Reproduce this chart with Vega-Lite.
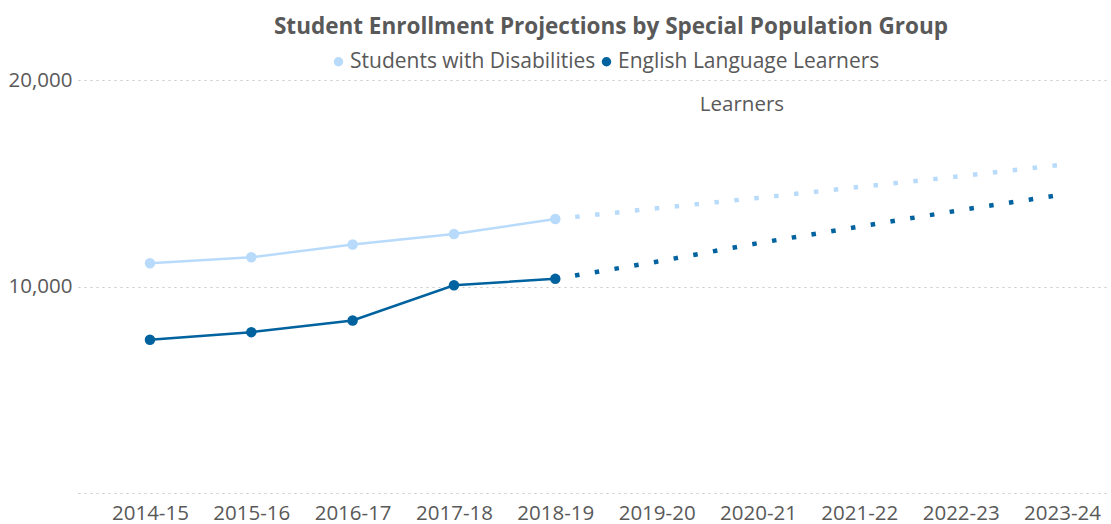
{
  "$schema": "https://vega.github.io/schema/vega-lite/v6.json",
  "width": 1030,
  "height": 413,
  "autosize": {"type": "none"},
  "padding": {"left": 78, "top": 80, "right": 3, "bottom": 31},
  "background": "white",
  "config": {
    "font": "Open Sans",
    "view": {"stroke": null},
    "axis": {"labelFont": "Open Sans", "labelColor": "#595959", "labelFontSize": 20.5}
  },
  "title": {
    "text": "Student Enrollment Projections by Special Population Group",
    "font": "Open Sans",
    "fontSize": 22.5,
    "fontWeight": "bold",
    "color": "#595959",
    "anchor": "middle",
    "dx": 18,
    "offset": 13
  },
  "data": {
    "values": [
      {"year": "2014-15", "group": "Students with Disabilities", "value": 11125, "kind": "actual"},
      {"year": "2015-16", "group": "Students with Disabilities", "value": 11415, "kind": "actual"},
      {"year": "2016-17", "group": "Students with Disabilities", "value": 12030, "kind": "actual"},
      {"year": "2017-18", "group": "Students with Disabilities", "value": 12545, "kind": "actual"},
      {"year": "2018-19", "group": "Students with Disabilities", "value": 13270, "kind": "actual"},
      {"year": "2018-19", "group": "Students with Disabilities", "value": 13270, "kind": "projected"},
      {"year": "2019-20", "group": "Students with Disabilities", "value": 13790, "kind": "projected"},
      {"year": "2020-21", "group": "Students with Disabilities", "value": 14290, "kind": "projected"},
      {"year": "2021-22", "group": "Students with Disabilities", "value": 14820, "kind": "projected"},
      {"year": "2022-23", "group": "Students with Disabilities", "value": 15340, "kind": "projected"},
      {"year": "2023-24", "group": "Students with Disabilities", "value": 15900, "kind": "projected"},
      {"year": "2014-15", "group": "English Language Learners", "value": 7425, "kind": "actual"},
      {"year": "2015-16", "group": "English Language Learners", "value": 7790, "kind": "actual"},
      {"year": "2016-17", "group": "English Language Learners", "value": 8355, "kind": "actual"},
      {"year": "2017-18", "group": "English Language Learners", "value": 10060, "kind": "actual"},
      {"year": "2018-19", "group": "English Language Learners", "value": 10370, "kind": "actual"},
      {"year": "2018-19", "group": "English Language Learners", "value": 10370, "kind": "projected"},
      {"year": "2019-20", "group": "English Language Learners", "value": 11200, "kind": "projected"},
      {"year": "2020-21", "group": "English Language Learners", "value": 12100, "kind": "projected"},
      {"year": "2021-22", "group": "English Language Learners", "value": 12900, "kind": "projected"},
      {"year": "2022-23", "group": "English Language Learners", "value": 13700, "kind": "projected"},
      {"year": "2023-24", "group": "English Language Learners", "value": 14450, "kind": "projected"}
    ]
  },
  "encoding": {
    "x": {
      "field": "year",
      "type": "ordinal",
      "scale": {"type": "point", "padding": 0.582, "align": 0.61},
      "axis": {"title": null, "domain": false, "ticks": false, "grid": false, "labelAngle": 0, "labelPadding": 10}
    },
    "y": {
      "field": "value",
      "type": "quantitative",
      "scale": {"domain": [0, 20000], "nice": false},
      "axis": {
        "title": null,
        "domain": false,
        "ticks": false,
        "values": [0, 10000, 20000],
        "labelExpr": "datum.value == 0 ? '' : format(datum.value, ',')",
        "labelPadding": 6,
        "grid": true,
        "gridColor": "#c8c8c8",
        "gridDash": [2, 4],
        "gridWidth": 1.2
      }
    },
    "color": {
      "field": "group",
      "type": "nominal",
      "scale": {
        "domain": ["Students with Disabilities", "English Language Learners"],
        "range": ["#b9dbfb", "#00629e"]
      },
      "legend": {
        "title": null,
        "orient": "none",
        "direction": "horizontal",
        "legendX": 250,
        "legendY": -29,
        "symbolType": "circle",
        "symbolSize": 90,
        "symbolStrokeWidth": 0,
        "labelFontSize": 21,
        "labelColor": "#595959",
        "labelFont": "Open Sans",
        "labelLimit": 500,
        "labelOffset": 1,
        "columnPadding": 0
      }
    }
  },
  "layer": [
    {
      "transform": [{"filter": "datum.kind == 'actual'"}],
      "mark": {"type": "line", "strokeWidth": 2.5}
    },
    {
      "transform": [{"filter": "datum.kind == 'actual'"}],
      "mark": {"type": "point", "filled": true, "size": 110, "opacity": 1}
    },
    {
      "transform": [{"filter": "datum.kind == 'projected'"}],
      "mark": {"type": "line", "strokeWidth": 4.5, "strokeDash": [4.5, 15.5], "strokeCap": "butt"}
    },
    {
      "data": {"values": [{"label": "Learners", "year": "2020-21", "value": 18790}]},
      "mark": {"type": "text", "fontSize": 20.5, "color": "#595959", "font": "Open Sans", "dx": -16, "baseline": "middle"},
      "encoding": {
        "text": {"field": "label"},
        "color": {"value": "#595959"}
      }
    }
  ]
}
